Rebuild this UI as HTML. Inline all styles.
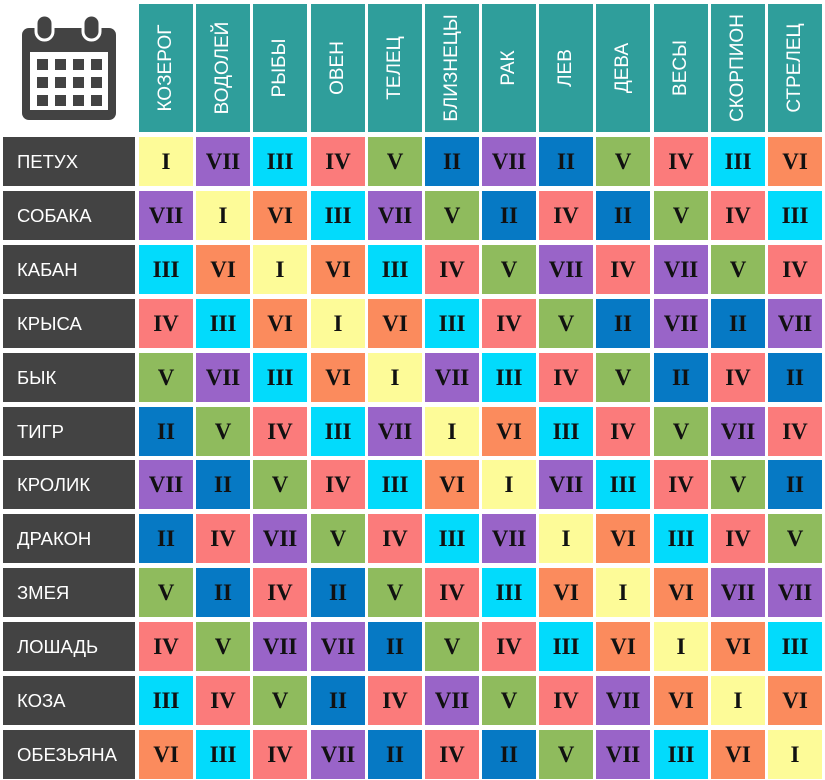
<!DOCTYPE html>
<html><head><meta charset="utf-8"><style>
body{margin:0;width:825px;height:780px;background:#fff;position:relative;overflow:hidden;font-family:"Liberation Sans",sans-serif}
.h{position:absolute;top:4px;height:128px;width:54px;background:#2f9e9b}
.h span{position:absolute;left:50%;top:50%;transform:translate(-50%,-50%) rotate(-90deg);color:#fff;font-size:19px;white-space:nowrap}
.l{position:absolute;left:3px;width:132px;height:49px;background:#434343;color:#fff;font-size:18.5px;line-height:49px;padding-left:14px;box-sizing:border-box}
.c{position:absolute;width:54px;height:49px;font-family:"Liberation Serif",serif;font-weight:bold;font-size:23px;line-height:49px;text-align:center;color:#111}
.v1{background:#fdfb98}.v2{background:#0679c4}.v3{background:#02dbfc}.v4{background:#fb7b7b}.v5{background:#8fbb5d}.v6{background:#fb8b5d}.v7{background:#9964c8}
</style></head><body>
<svg style="position:absolute;left:0;top:0" width="130" height="130">
<rect x="22" y="28" width="94" height="92" rx="7" fill="#434343"/>
<rect x="30" y="52" width="78" height="58" fill="#fff"/>
<rect x="36" y="15" width="17" height="25" rx="8.5" fill="#434343" stroke="#fff" stroke-width="3"/>
<rect x="83" y="15" width="17" height="25" rx="8.5" fill="#434343" stroke="#fff" stroke-width="3"/>
<g fill="#434343">
<rect x="37" y="59" width="11" height="11"/><rect x="55" y="59" width="11" height="11"/><rect x="73" y="59" width="11" height="11"/><rect x="91" y="59" width="11" height="11"/>
<rect x="37" y="77" width="11" height="11"/><rect x="55" y="77" width="11" height="11"/><rect x="73" y="77" width="11" height="11"/><rect x="91" y="77" width="11" height="11"/>
<rect x="37" y="95" width="11" height="11"/><rect x="55" y="95" width="11" height="11"/><rect x="73" y="95" width="11" height="11"/><rect x="91" y="95" width="11" height="11"/>
</g></svg>
<div id="g"></div>
<script>
var cols=["КОЗЕРОГ","ВОДОЛЕЙ","РЫБЫ","ОВЕН","ТЕЛЕЦ","БЛИЗНЕЦЫ","РАК","ЛЕВ","ДЕВА","ВЕСЫ","СКОРПИОН","СТРЕЛЕЦ"];
var rows=[["ПЕТУХ","I VII III IV V II VII II V IV III VI"],["СОБАКА","VII I VI III VII V II IV II V IV III"],["КАБАН","III VI I VI III IV V VII IV VII V IV"],["КРЫСА","IV III VI I VI III IV V II VII II VII"],["БЫК","V VII III VI I VII III IV V II IV II"],["ТИГР","II V IV III VII I VI III IV V VII IV"],["КРОЛИК","VII II V IV III VI I VII III IV V II"],["ДРАКОН","II IV VII V IV III VII I VI III IV V"],["ЗМЕЯ","V II IV II V IV III VI I VI VII VII"],["ЛОШАДЬ","IV V VII VII II V IV III VI I VI III"],["КОЗА","III IV V II IV VII V IV VII VI I VI"],["ОБЕЗЬЯНА","VI III IV VII II IV II V VII III VI I"]];
var n={I:1,II:2,III:3,IV:4,V:5,VI:6,VII:7},h="";
cols.forEach(function(c,i){h+='<div class="h" style="left:'+Math.round(139+i*57.18)+'px"><span>'+c+'</span></div>';});
rows.forEach(function(r,j){var y=Math.round(137+j*53.9);h+='<div class="l" style="top:'+y+'px">'+r[0]+'</div>';
r[1].split(" ").forEach(function(v,i){h+='<div class="c v'+n[v]+'" style="left:'+Math.round(139+i*57.18)+'px;top:'+y+'px">'+v+'</div>';});});
document.getElementById("g").innerHTML=h;
</script>
</body></html>
